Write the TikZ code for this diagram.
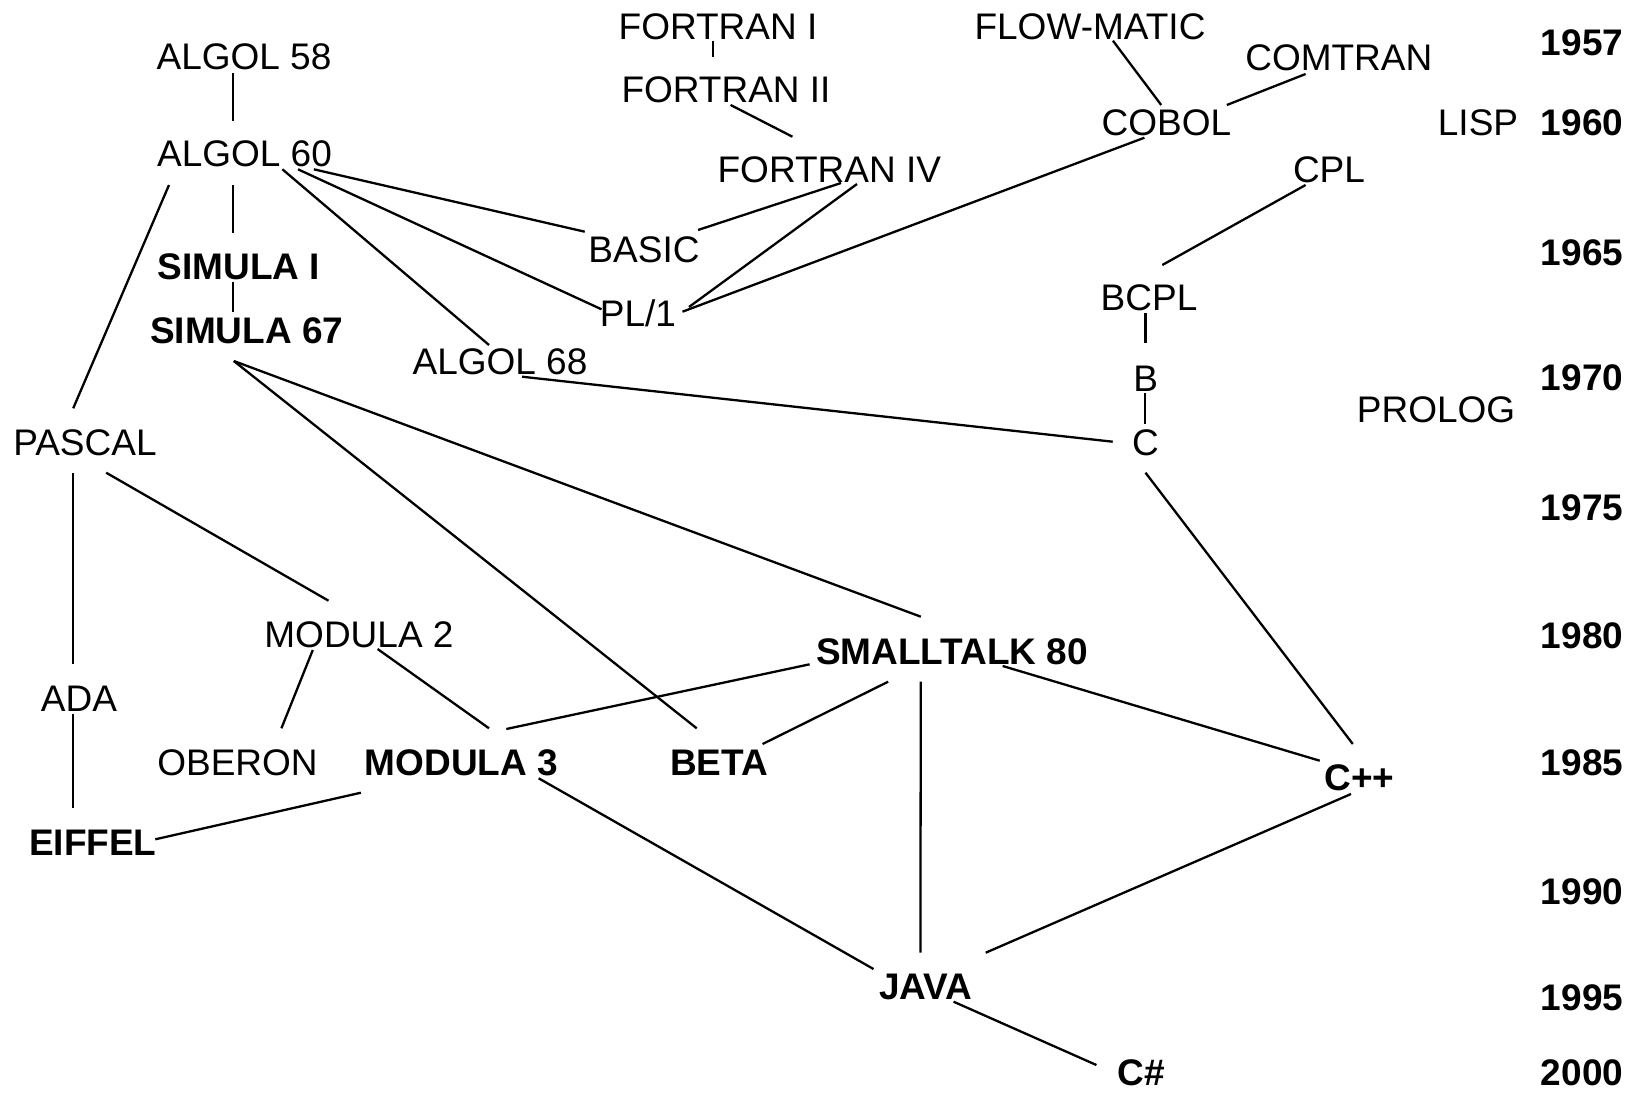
\documentclass[tikz,border=0pt]{standalone}
\usepackage{fontspec}
\setmainfont{Liberation Sans}
\usetikzlibrary{calc}
\begin{document}
\begin{tikzpicture}[x=1pt,y=-1pt,
  lang/.style={anchor=base,inner sep=0pt,font=\fontsize{37}{44}\selectfont},
  oolang/.style={anchor=base,inner sep=0pt,font=\fontsize{37}{44}\selectfont\bfseries},
  year/.style={oolang},
  link/.style={line width=2.3pt,line cap=butt}]
\useasboundingbox[fill=white] (0,0) rectangle (1643,1092);

% languages (placed by baseline centre)
\node[lang] (f1)      at (718,39)      {FORTRAN I};
\node[lang] (f2)      at (726,102.7)   {FORTRAN II};
\node[lang] (flow)    at (1090,39)     {FLOW-MATIC};
\node[lang] (comtran) at (1338.8,70.7) {COMTRAN};
\node[lang] (a58)     at (244,69)      {ALGOL 58};
\node[lang] (cobol)   at (1166.5,135)  {COBOL};
\node[lang] (lisp)    at (1478,135)    {LISP};
\node[lang] (a60)     at (244.5,166.7) {ALGOL 60};
\node[lang] (f4)      at (829.3,182.7) {FORTRAN IV};
\node[lang] (cpl)     at (1329,182.7)  {CPL};
\node[lang] (basic)   at (644,262.7)   {BASIC};
\node[oolang] (sim1)  at (238.8,279)   {SIMULA I};
\node[lang] (bcpl)    at (1149,310.7)  {BCPL};
\node[lang] (pl1)     at (638,326)     {PL/1};
\node[oolang] (sim67) at (246.7,343.3) {SIMULA 67};
\node[lang] (a68)     at (500,374)     {ALGOL 68};
\node[lang] (b)       at (1145.8,391)  {B};
\node[lang] (prolog)  at (1436,422.7)  {PROLOG};
\node[lang] (pascal)  at (85,455)      {PASCAL};
\node[lang] (c)       at (1145.5,455)  {C};
\node[lang] (mod2)    at (359,647.3)   {MODULA 2};
\node[oolang] (st80)  at (952,664)     {SMALLTALK 80};
\node[lang] (ada)     at (79,711.7)    {ADA};
\node[lang] (oberon)  at (237.5,775)   {OBERON};
\node[oolang] (mod3)  at (461.5,775)   {MODULA 3};
\node[oolang] (beta)  at (719,775)     {BETA};
\node[oolang] (cpp)   at (1359.4,790.7){C++};
\node[oolang] (eiffel) at (92.8,855)   {EIFFEL};
\node[oolang] (java)  at (926,999.3)   {JAVA};
\node[oolang] (cs)    at (1141,1085)   {C\#};

% time scale
\node[year] (y1957) at (1582,55)    {1957};
\node[year] (y1960) at (1582,135)   {1960};
\node[year] (y1965) at (1582,265)   {1965};
\node[year] (y1970) at (1582,390.7) {1970};
\node[year] (y1975) at (1582,520)   {1975};
\node[year] (y1980) at (1582,648)   {1980};
\node[year] (y1985) at (1582,775)   {1985};
\node[year] (y1990) at (1582,904)   {1990};
\node[year] (y1995) at (1582,1010)  {1995};
\node[year] (y2000) at (1582,1085)  {2000};

% lines of descent
\draw[link] ($(f1.base)+(-5.1,1.7)$)      -- ($(f2.base)+(-13.1,-46)$);
\draw[link] ($(f2.base)+(4.6,2.3)$)       -- ($(f4.base)+(-36.9,-46)$);
\draw[link] ($(flow.base)+(22.9,1.7)$)    -- ($(cobol.base)+(-5.3,-30)$);
\draw[link] ($(comtran.base)+(-33.2,3.3)$) -- ($(cobol.base)+(60.3,-30)$);
\draw[link] ($(a58.base)+(-10.7,4.3)$)    -- ($(a60.base)+(-11.2,-46)$);
\draw[link] ($(a60.base)+(-11.2,18.3)$)   -- ($(sim1.base)+(-5.5,-46.3)$);
\draw[link] ($(sim1.base)+(-5.5,2.7)$)    -- ($(sim67.base)+(-13.4,-31.6)$);
\draw[link] ($(a60.base)+(-75.5,18.3)$)   -- ($(pascal.base)+(-11.8,-46.7)$);
\draw[link] ($(a60.base)+(69.3,2.6)$)     -- ($(basic.base)+(-59.3,-31)$);
\draw[link] ($(a60.base)+(53.5,2.6)$)     -- ($(pl1.base)+(-36.5,-16.7)$);
\draw[link] ($(a60.base)+(37.9,2.6)$)     -- ($(a68.base)+(-11,-29)$);
\draw[link] ($(f4.base)+(11.7,0.3)$)      -- ($(basic.base)+(54,-32.7)$);
\draw[link] ($(f4.base)+(27.7,1.3)$)      -- ($(pl1.base)+(51,-19)$);
\draw[link] ($(cobol.base)+(-22.1,2.7)$)  -- ($(pl1.base)+(44.5,-14.3)$);
\draw[link] ($(cpl.base)+(-23.4,2.3)$)    -- ($(bcpl.base)+(13.3,-45.7)$);
\draw[link] ($(bcpl.base)+(-3.5,2.6)$)    -- ($(b.base)+(-0.3,-47.7)$);
\draw[link] ($(b.base)+(-0.8,2.3)$)       -- ($(c.base)+(-0.5,-31)$);
\draw[link] ($(a68.base)+(22,2.7)$)       -- ($(c.base)+(-32.8,-13.3)$);
\draw[link] ($(pascal.base)+(-11.8,18)$)  -- ($(ada.base)+(-5.8,-47.7)$);
\draw[link] ($(pascal.base)+(21.2,17.7)$) -- ($(mod2.base)+(-30.5,-46.6)$);
\draw[link] ($(sim67.base)+(-12.9,17.7)$) -- ($(beta.base)+(-22.3,-46.7)$);
\draw[link] ($(sim67.base)+(-12.9,17.7)$) -- ($(st80.base)+(-31.2,-47.3)$);
\draw[link] ($(c.base)+(0,17.7)$)         -- ($(cpp.base)+(-6.6,-46.7)$);
\draw[link] ($(mod2.base)+(-46.2,2.7)$)   -- ($(oberon.base)+(43.9,-46.7)$);
\draw[link] ($(mod2.base)+(18.6,1.7)$)    -- ($(mod3.base)+(27.5,-46.7)$);
\draw[link] ($(st80.base)+(-142.4,0.3)$)  -- ($(mod3.base)+(44.8,-46)$);
\draw[link] ($(st80.base)+(-63.8,17.7)$)  -- ($(beta.base)+(43.6,-31)$);
\draw[link] ($(st80.base)+(-31.2,17.7)$)  -- ($(java.base)+(-5.6,-46.6)$);
\draw[link] ($(st80.base)+(50.7,2)$)      -- ($(cpp.base)+(-39.7,-30)$);
\draw[link] ($(ada.base)+(-5.8,2.3)$)     -- ($(eiffel.base)+(-19.6,-46.7)$);
\draw[link] ($(mod3.base)+(-100.6,17.7)$) -- ($(eiffel.base)+(62.5,-15.7)$);
\draw[link] ($(mod3.base)+(77.2,3.3)$)    -- ($(java.base)+(-52.5,-30.3)$);
\draw[link] ($(cpp.base)+(-8.4,3.3)$)     -- ($(java.base)+(59.7,-46.6)$);
\draw[link] ($(java.base)+(27.6,2.4)$)    -- ($(cs.base)+(-44.6,-20)$);
\end{tikzpicture}
\end{document}
